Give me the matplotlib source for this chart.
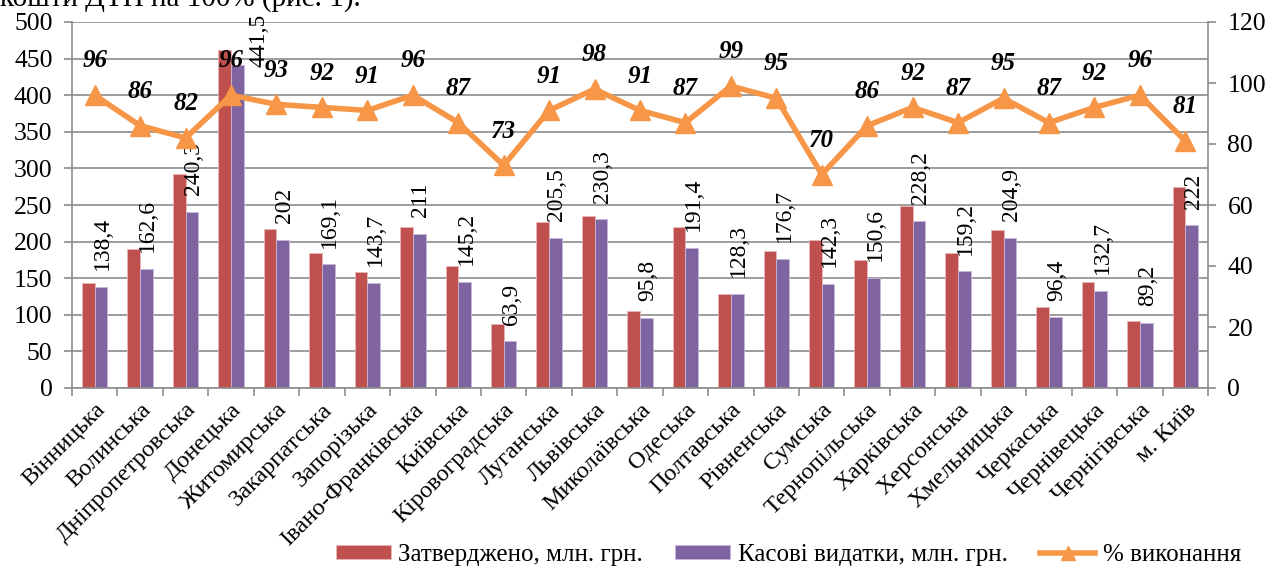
import matplotlib.pyplot as plt
import numpy as np

plt.rcParams['font.family'] = ['Liberation Serif', 'DejaVu Serif']

# Regions
regions = ['Вінницька', 'Волинська', 'Дніпропетровська', 'Донецька', 'Житомирська',
           'Закарпатська', 'Запорізька', 'Івано-Франківська', 'Київська', 'Кіровоградська',
           'Луганська', 'Львівська', 'Миколаївська', 'Одеська', 'Полтавська',
           'Рівненська', 'Сумська', 'Тернопільська', 'Харківська', 'Херсонська',
           'Хмельницька', 'Черкаська', 'Чернівецька', 'Чернігівська', 'м. Київ']

# Approved, mln UAH
approved = [143, 190, 293, 462, 217, 184, 158, 220, 167, 87,
            227, 235, 105, 220, 129, 187, 202, 175, 248, 184,
            216, 111, 145, 92, 275]

# Cash expenditures, mln UAH
spent = [138.4, 162.6, 240.3, 441.5, 202, 169.1, 143.7, 211, 145.2, 63.9,
         205.5, 230.3, 95.8, 191.4, 128.3, 176.7, 142.3, 150.6, 228.2, 159.2,
         204.9, 96.4, 132.7, 89.2, 222]
spent_labels = ['138,4', '162,6', '240,3', '441,5', '202', '169,1', '143,7', '211', '145,2', '63,9',
                '205,5', '230,3', '95,8', '191,4', '128,3', '176,7', '142,3', '150,6', '228,2', '159,2',
                '204,9', '96,4', '132,7', '89,2', '222']

# % of execution
percent = [96, 86, 82, 96, 93, 92, 91, 96, 87, 73, 91, 98, 91, 87, 99,
           95, 70, 86, 92, 87, 95, 87, 92, 96, 81]

red = '#C0504D'
purple = '#8064A2'
orange = '#F79646'
gray = '#8C8C8C'

fig = plt.figure(figsize=(12.7, 5.7), dpi=100)
ax = fig.add_axes([72 / 1270, 1 - 388 / 570, (1208 - 72) / 1270, (388 - 22) / 570])
ax2 = ax.twinx()

x = np.arange(len(regions))
w = 0.28
ax.bar(x - w / 2, approved, w, color=red, edgecolor='#E8B8B6', linewidth=0.6,
       label='Затверджено, млн. грн.', zorder=2)
ax.bar(x + w / 2, spent, w, color=purple, edgecolor='#C6B8D8', linewidth=0.6,
       label='Касові видатки, млн. грн.', zorder=2)

for xi, v, t in zip(x, spent, spent_labels):
    if v > 400:
        # doesn't fit above, Excel puts it next to the bar
        ax.annotate(t, (xi + 0.62, 500), xytext=(0, 6), textcoords='offset points',
                    rotation=90, ha='center', va='top', fontsize=17, zorder=5)
    else:
        ax.annotate(t, (xi + w / 2, v), xytext=(1, 12), textcoords='offset points',
                    rotation=90, ha='center', va='bottom', fontsize=17, zorder=5)

ax.set_xlim(-0.5, len(regions) - 0.5)
ax.set_ylim(0, 500)
ax.set_yticks(np.arange(0, 501, 50))
ax.yaxis.grid(True, color=gray, linewidth=1.2)
ax.set_axisbelow(True)

ax.set_xticks(np.arange(-0.5, len(regions), 1), minor=False)
ax.set_xticklabels([])
ax.set_xticks(x, minor=True)
ax.set_xticklabels(regions, minor=True, rotation=45, ha='right', va='top',
                   rotation_mode='anchor', fontsize=17.5)
ax.tick_params(axis='x', which='minor', length=0, pad=8)
ax.tick_params(axis='x', which='major', length=6, width=1.2, color=gray)
ax.tick_params(axis='y', length=6, width=1.2, color=gray, labelsize=18.5, pad=8)

for s in ['top', 'right']:
    ax.spines[s].set_visible(False)
for s in ['left', 'bottom']:
    ax.spines[s].set_color(gray)
    ax.spines[s].set_linewidth(1.2)

ax2.plot(x, percent, color=orange, linewidth=4, marker='^', markersize=14,
         label='% виконання', zorder=4)
for xi, p in zip(x, percent):
    ax2.annotate(str(p), (xi, p), xytext=(0, 20), textcoords='offset points',
                 ha='center', va='baseline', fontsize=18, fontweight='bold',
                 fontstyle='italic')
ax2.set_ylim(0, 120)
ax2.set_yticks(np.arange(0, 121, 20))
ax2.tick_params(axis='y', length=6, width=1.2, color=gray, labelsize=18.5, pad=8)
for s in ['top', 'left', 'bottom']:
    ax2.spines[s].set_visible(False)
ax2.spines['right'].set_color(gray)
ax2.spines['right'].set_linewidth(1.2)

# clipped line of the surrounding document text
fig.text(0.0, 1 - 6 / 570, 'кошти ДТП на 100% (рис. 1).', fontsize=21,
         va='baseline', ha='left')

h1, l1 = ax.get_legend_handles_labels()
h2, l2 = ax2.get_legend_handles_labels()
leg = fig.legend(h1 + h2, l1 + l2, ncol=3, loc='center right', bbox_to_anchor=(0.985, 0.027),
                 frameon=False, fontsize=18, handlelength=2.2, handleheight=0.5,
                 handletextpad=0.3, columnspacing=1.3, borderaxespad=0, markerscale=0.75)

fig.savefig('out.png', dpi=100)
